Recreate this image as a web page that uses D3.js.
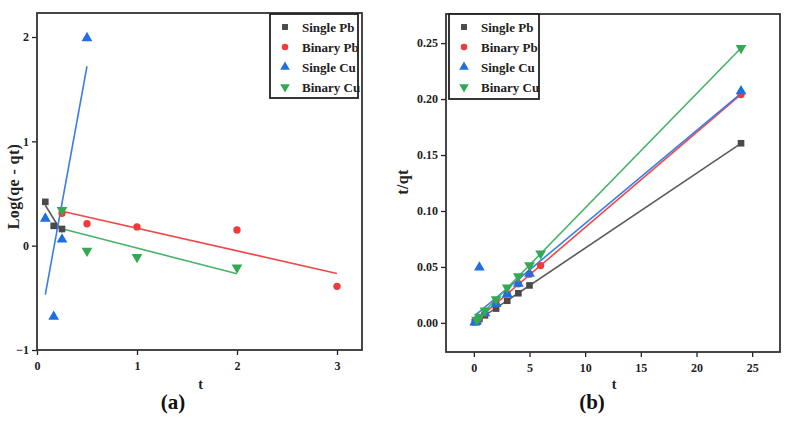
<!DOCTYPE html>
<html><head><meta charset="utf-8">
<script src="https://cdn.jsdelivr.net/npm/d3@7/dist/d3.min.js"></script>
<style>
html,body{margin:0;padding:0;background:#fff;}
svg{display:block;font-family:"Liberation Serif","Times New Roman",serif;}
</style></head>
<body>
<svg id="chart" width="791" height="424"></svg>
<script>
// ---------- Data ----------
const seriesNames = ["Single Pb", "Binary Pb", "Single Cu", "Binary Cu"];

// Panel (a): pseudo-first-order, Log(qe - qt) vs t
const aSinglePbT = [0.083, 0.167, 0.25];
const aSinglePbY = [0.42, 0.19, 0.16];
const aBinaryPbT = [0.25, 0.5, 1, 2, 3];
const aBinaryPbY = [0.31, 0.21, 0.18, 0.15, -0.39];
const aSingleCuT = [0.083, 0.167, 0.25, 0.5];
const aSingleCuY = [0.26, -0.68, 0.06, 1.99];
const aBinaryCuT = [0.25, 0.5, 1, 2];
const aBinaryCuY = [0.34, -0.05, -0.11, -0.21];

// Panel (b): pseudo-second-order, t/qt vs t
const bSinglePbT = [0.083, 0.167, 0.25, 0.5, 1, 2, 3, 4, 5, 24];
const bSinglePbY = [0.0006, 0.0012, 0.0018, 0.0035, 0.0068, 0.0128, 0.0198, 0.0265, 0.0335, 0.1605];
const bBinaryPbT = [0.25, 0.5, 1, 2, 3, 4, 5, 6, 24];
const bBinaryPbY = [0.002, 0.0045, 0.0088, 0.017, 0.026, 0.035, 0.0435, 0.0512, 0.204];
const bSingleCuT = [0.083, 0.167, 0.25, 0.5, 1, 2, 3, 4, 5, 24];
const bSingleCuY = [0.0005, 0.001, 0.0015, 0.0495, 0.0087, 0.017, 0.026, 0.035, 0.044, 0.207];
const bBinaryCuT = [0.25, 0.5, 1, 2, 3, 4, 5, 6, 24];
const bBinaryCuY = [0.0028, 0.0055, 0.011, 0.021, 0.0315, 0.0415, 0.0515, 0.062, 0.2455];

const aXTicks = [0, 1, 2, 3];
const aYTicks = [-1, 0, 1, 2];
const bXTicks = [0, 5, 10, 15, 20, 25];
const bYTicks = [0.00, 0.05, 0.10, 0.15, 0.20, 0.25];

// ---------- Styles ----------
const colors = ["#4a4a4a", "#ef3b3b", "#1f6fe0", "#34a853"];
const lineColors = ["#5a5a5a", "#f04848", "#3a7fe6", "#45b36a"];
const symbols = [d3.symbolSquare, d3.symbolCircle, d3.symbolTriangle, d3.symbolTriangle];
const symSizes = [44, 42, 50, 50];
const symRot = [0, 0, 0, 180];

const svg = d3.select("#chart");

function fit(ts, ys) {
  const n = ts.length;
  const mx = d3.mean(ts), my = d3.mean(ys);
  let sxy = 0, sxx = 0;
  for (let i = 0; i < n; i++) { sxy += (ts[i]-mx)*(ys[i]-my); sxx += (ts[i]-mx)*(ts[i]-mx); }
  const b = sxy / sxx, a = my - b*mx;
  const x0 = d3.min(ts), x1 = d3.max(ts);
  return [[x0, a + b*x0], [x1, a + b*x1]];
}

function panel(cfg) {
  const x = d3.scaleLinear().domain(cfg.xDomain).range([cfg.left, cfg.right]);
  const y = d3.scaleLinear().domain(cfg.yDomain).range([cfg.bottom, cfg.top]);
  const g = svg.append("g");

  // axes
  const xa = g.append("g").attr("transform", `translate(0,${cfg.bottom})`)
    .call(d3.axisBottom(x).tickValues(cfg.xTicks).tickSize(5).tickPadding(6).tickFormat(cfg.xFmt));
  const ya = g.append("g").attr("transform", `translate(${cfg.left},0)`)
    .call(d3.axisLeft(y).tickValues(cfg.yTicks).tickSize(5).tickPadding(3).tickFormat(cfg.yFmt));
  [xa, ya].forEach(a => {
    a.select(".domain").remove();
    a.selectAll(".tick line").attr("stroke", "#222").attr("stroke-width", 1.3);
    a.selectAll(".tick text").attr("fill", "#222").style("font-size", "12px").style("font-weight", "bold")
      .style("font-family", "'Liberation Serif',serif");
  });

  // data lines
  cfg.series.forEach((s, i) => {
    const f = fit(s.t, s.y);
    g.append("line")
      .attr("x1", x(f[0][0])).attr("y1", y(f[0][1]))
      .attr("x2", x(f[1][0])).attr("y2", y(f[1][1]))
      .attr("stroke", lineColors[i]).attr("stroke-width", 1.6);
  });
  // points
  cfg.series.forEach((s, i) => {
    const sym = d3.symbol().type(symbols[i]).size(symSizes[i]);
    g.append("g").selectAll("path").data(s.t.map((t, k) => [t, s.y[k]])).join("path")
      .attr("d", sym)
      .attr("transform", d => `translate(${x(d[0])},${y(d[1])}) rotate(${symRot[i]})`)
      .attr("fill", colors[i]);
  });

  // frame
  g.append("rect").attr("x", cfg.left).attr("y", cfg.top)
    .attr("width", cfg.right - cfg.left).attr("height", cfg.bottom - cfg.top)
    .attr("fill", "none").attr("stroke", "#333").attr("stroke-width", 1.8);

  // legend
  const L = cfg.legend;
  g.append("rect").attr("x", L.x).attr("y", L.y).attr("width", L.w).attr("height", L.h)
    .attr("fill", "#fff").attr("stroke", "#222").attr("stroke-width", 1.8);
  seriesNames.forEach((name, i) => {
    const cy = L.y + 13 + i * 20;
    const sym = d3.symbol().type(symbols[i]).size(symSizes[i] * 0.8);
    g.append("path").attr("d", sym)
      .attr("transform", `translate(${L.x + 15},${cy}) rotate(${symRot[i]})`)
      .attr("fill", colors[i]);
    g.append("text").attr("x", L.x + 32).attr("y", cy + 4.5)
      .attr("fill", "#222").style("font-size", "13px").style("font-weight", "bold")
      .text(name);
  });

  // axis titles
  g.append("text").attr("x", (cfg.left + cfg.right) / 2 + 1).attr("y", 389)
    .attr("text-anchor", "middle").attr("fill", "#222")
    .style("font-size", "14px").style("font-weight", "bold").text("t");
  g.append("text")
    .attr("transform", `translate(${cfg.yLabelX},${(cfg.top + cfg.bottom) / 2 + cfg.yLabelDy}) rotate(-90)`)
    .attr("text-anchor", "middle").attr("fill", "#222")
    .style("font-size", "16px").style("font-weight", "bold").style("letter-spacing", "0.4px")
    .text(cfg.yLabel);
  g.append("text").attr("x", cfg.capX).attr("y", 409)
    .attr("text-anchor", "middle").attr("fill", "#111")
    .style("font-size", "21px").style("font-weight", "bold").text(cfg.caption);
}

panel({
  left: 37, right: 362, top: 13, bottom: 350,
  xDomain: [0, 3.25], yDomain: [-1, 2.23],
  xTicks: aXTicks, yTicks: aYTicks,
  xFmt: d3.format("d"), yFmt: d3.format("d"),
  series: [
    {t: aSinglePbT, y: aSinglePbY},
    {t: aBinaryPbT, y: aBinaryPbY},
    {t: aSingleCuT, y: aSingleCuY},
    {t: aBinaryCuT, y: aBinaryCuY}
  ],
  legend: {x: 270, y: 14, w: 88, h: 84},
  yLabel: "Log(qe - qt)", yLabelX: 19, yLabelDy: 5,
  caption: "(a)", capX: 173
});

panel({
  left: 446, right: 780, top: 14, bottom: 352,
  xDomain: [-2.5, 27.5], yDomain: [-0.026, 0.276],
  xTicks: bXTicks, yTicks: bYTicks,
  xFmt: d3.format("d"), yFmt: d3.format(".2f"),
  series: [
    {t: bSinglePbT, y: bSinglePbY},
    {t: bBinaryPbT, y: bBinaryPbY},
    {t: bSingleCuT, y: bSingleCuY},
    {t: bBinaryCuT, y: bBinaryCuY}
  ],
  legend: {x: 449, y: 14, w: 90, h: 85},
  yLabel: "t/qt", yLabelX: 408, yLabelDy: -1,
  caption: "(b)", capX: 592
});
</script>
</body></html>
